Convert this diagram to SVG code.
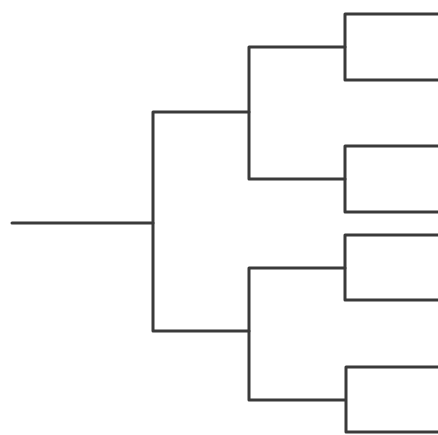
<svg xmlns="http://www.w3.org/2000/svg" width="438" height="435" viewBox="0 0 438 435">
<style>
.c{fill:none;stroke:#3a3a3a;stroke-width:3;stroke-linejoin:round;stroke-linecap:round}
</style>
<rect width="438" height="435" fill="#ffffff"/>
<g id="connectors">
<path class="c" d="M12,223 H153"/>
<path class="c" d="M249,112 H153 V331 H249"/>
<path class="c" d="M345,47 H249 V179 H345"/>
<path class="c" d="M440,14 H345 V80 H440"/>
<path class="c" d="M440,146 H345 V212 H440"/>
<path class="c" d="M345,268 H249 V400 H345"/>
<path class="c" d="M440,235 H345 V300 H440"/>
<path class="c" d="M440,367 H346 V432 H440"/>
</g>
</svg>
